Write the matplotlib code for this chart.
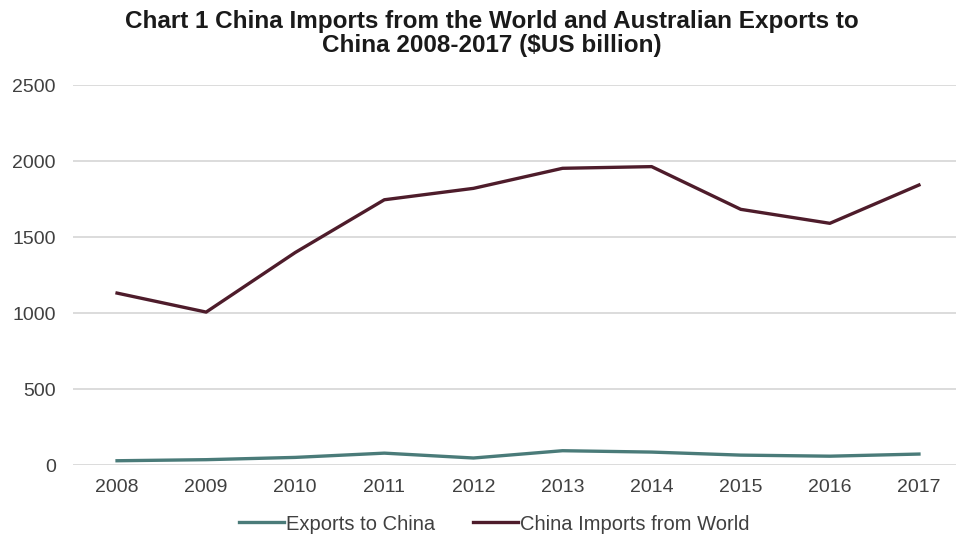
import matplotlib
matplotlib.use("Agg")
import matplotlib.pyplot as plt

# Chart data
years = ["2008", "2009", "2010", "2011", "2012", "2013", "2014", "2015", "2016", "2017"]
exports_to_china = [28, 35, 50, 78, 46, 94, 85, 65, 58, 72]
china_imports = [1131, 1006, 1398, 1745, 1820, 1952, 1963, 1682, 1590, 1842]
y_ticks = [0, 500, 1000, 1500, 2000, 2500]

plt.rcParams['font.family'] = ['Liberation Sans', 'DejaVu Sans']

fig = plt.figure(figsize=(9.56, 5.37), dpi=100)
ax = fig.add_axes([72.5 / 956, 1 - 465 / 537, 891 / 956, 380 / 537])

x = list(range(len(years)))
ax.plot(x, exports_to_china, color='#4a7b79', linewidth=2.4, label='Exports to China')
ax.plot(x, china_imports, color='#4e1c2b', linewidth=2.4, label='China Imports from World')

ax.set_xlim(-0.5, len(years) - 0.5)
ax.set_ylim(0, 2500)
ax.set_yticks(y_ticks)
ax.set_xticks(x)
ax.set_xticklabels(years)

ax.grid(axis='y', color='#d9d9d9', linewidth=1.3)
ax.set_axisbelow(True)
for s in ax.spines.values():
    s.set_visible(False)
ax.tick_params(length=0, labelsize=14, colors='#404040', pad=10)
ax.tick_params(axis='y', pad=12)

fig.text(0.514, 0.938, "Chart 1 China Imports from the World and Australian Exports to\nChina 2008-2017 ($US billion)",
         ha='center', va='center', fontsize=17.5, fontweight='bold', linespacing=1.05, color='#1a1a1a')

fig.legend(loc='center', bbox_to_anchor=(0.517, 1 - 524 / 537), ncol=2, frameon=False,
           fontsize=14.5, handlelength=2.2, handletextpad=0.1, columnspacing=1.9,
           labelcolor='#404040')

fig.savefig("out.png", dpi=100)
